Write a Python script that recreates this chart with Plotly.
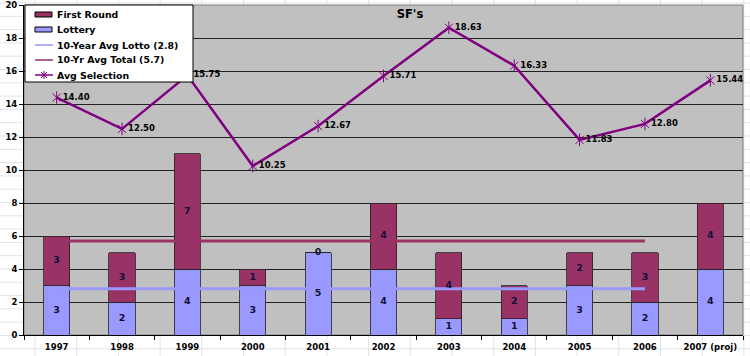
import plotly.graph_objects as go

years = ["1997", "1998", "1999", "2000", "2001", "2002", "2003", "2004", "2005", "2006", "2007 (proj)"]
lottery = [3, 2, 4, 3, 5, 4, 1, 1, 3, 2, 4]
first_round = [3, 3, 7, 1, 0, 4, 4, 2, 2, 3, 4]
avg_selection = [14.40, 12.50, 15.75, 10.25, 12.67, 15.71, 18.63, 16.33, 11.83, 12.80, 15.44]
avg_span = ["1997", "2006"]
avg_lotto = [2.8, 2.8]
avg_total = [5.7, 5.7]
legend_names = ["First Round", "Lottery", "10-Year Avg Lotto (2.8)", "10-Yr Avg Total (5.7)", "Avg Selection"]

FONT = "DejaVu Sans"
C_FR = "#993366"
C_LOT = "#9999FF"
C_SEL = "#800080"
TXT = "#10103a"

fig = go.Figure()
fig.add_bar(x=years, y=lottery, name=legend_names[1], marker=dict(color=C_LOT, line=dict(color="#222", width=0.8)),
            width=0.4, hoverinfo="skip")
fig.add_bar(x=years, y=first_round, name=legend_names[0], marker=dict(color=C_FR, line=dict(color="#222", width=0.8)),
            width=0.4, hoverinfo="skip")
fig.add_scatter(x=avg_span, y=avg_lotto, mode="lines", name=legend_names[2],
                line=dict(color=C_LOT, width=3))
fig.add_scatter(x=avg_span, y=avg_total, mode="lines", name=legend_names[3],
                line=dict(color=C_FR, width=3))
fig.add_scatter(x=years, y=avg_selection, mode="lines+markers+text", name=legend_names[4],
                line=dict(color=C_SEL, width=2.5),
                marker=dict(symbol="x-thin-open", size=8, color=C_SEL, line=dict(color=C_SEL, width=1)),
                text=[f"{v:.2f}" for v in avg_selection], textposition="middle right",
                textfont=dict(family=FONT, size=8.5, color="#000", weight="bold"))
fig.add_scatter(x=years, y=avg_selection, mode="markers", showlegend=False, hoverinfo="skip",
                marker=dict(symbol="line-ns-open", size=9, color=C_SEL, line=dict(color=C_SEL, width=1)))
# bar segment labels
lot_mid = [v / 2 for v in lottery]
fr_mid = [l + f / 2 for l, f in zip(lottery, first_round)]
fig.add_scatter(x=years, y=lot_mid, mode="text", text=[str(v) for v in lottery], showlegend=False,
                textfont=dict(family=FONT, size=9.5, color=TXT, weight="bold"), hoverinfo="skip")
fig.add_scatter(x=years, y=fr_mid, mode="text", text=[str(v) for v in first_round], showlegend=False,
                textfont=dict(family=FONT, size=9.5, color=TXT, weight="bold"), hoverinfo="skip")

# layout geometry (pixels)
L, R, T, B = 24, 743, 5, 335
W, H = R - L, B - T
def px(xp):
    return (xp - L) / W
def py(yp):
    return (B - yp) / H

shapes = []
# spreadsheet-like background
k = 0
while 35 + k * 41.7 < 750:
    xx = 35 + k * 41.7
    shapes.append(dict(type="line", xref="paper", yref="paper", x0=px(xx), x1=px(xx), y0=py(0), y1=py(356),
                       line=dict(color="#dfe3ea", width=1), layer="below"))
    k += 1
k = 0
while 3 + k * 13.3 < 356:
    yy = 3 + k * 13.3
    shapes.append(dict(type="line", xref="paper", yref="paper", x0=px(0), x1=px(750), y0=py(yy), y1=py(yy),
                       line=dict(color="#dfe3ea", width=1), layer="below"))
    k += 1
shapes.append(dict(type="rect", xref="paper", yref="paper", x0=0, x1=1, y0=0, y1=1,
                   fillcolor="#C0C0C0", line=dict(color="#808080", width=1), layer="below"))

# legend box (Excel style)
def pline(x0, y0, x1, y1, color, width):
    return dict(type="line", xref="paper", yref="paper", x0=px(x0), x1=px(x1), y0=py(y0), y1=py(y1),
                line=dict(color=color, width=width), layer="above")
shapes.append(dict(type="rect", xref="paper", yref="paper", x0=px(25), x1=px(193), y0=py(82), y1=py(5),
                   fillcolor="white", line=dict(color="#000", width=1), layer="above"))
item_y = [14.5, 29.5, 45, 60, 75]
for yc, col in zip(item_y[:2], [C_FR, C_LOT]):
    shapes.append(dict(type="rect", xref="paper", yref="paper", x0=px(35), x1=px(52), y0=py(yc + 2.5), y1=py(yc - 2.5),
                       fillcolor=col, line=dict(color="#000", width=1), layer="above"))
shapes.append(pline(35, item_y[2], 53, item_y[2], C_LOT, 1.5))
shapes.append(pline(35, item_y[3], 53, item_y[3], C_FR, 1.5))
shapes.append(pline(35, item_y[4], 53, item_y[4], C_SEL, 1.5))
shapes.append(pline(41, item_y[4] - 3, 47, item_y[4] + 3, C_SEL, 1))
shapes.append(pline(41, item_y[4] + 3, 47, item_y[4] - 3, C_SEL, 1))
shapes.append(pline(44, item_y[4] - 4, 44, item_y[4] + 4, C_SEL, 1))
annotations = [dict(text=name, xref="paper", yref="paper", x=px(55), y=py(yc), xanchor="left", yanchor="middle",
                    showarrow=False, font=dict(family=FONT, size=9.4, color="#000", weight="bold"))
               for name, yc in zip(legend_names, item_y)]

fig.update_layout(
    width=750, height=356,
    margin=dict(l=L, r=750 - R, t=T, b=356 - B, autoexpand=False),
    paper_bgcolor="white", plot_bgcolor="rgba(0,0,0,0)",
    barmode="stack",
    shapes=shapes,
    annotations=annotations,
    showlegend=False,
    font=dict(family=FONT, color="#000"),
    title=dict(text="<b>SF's</b>", x=px(410), xref="paper", xanchor="center",
               y=1 - 14 / 356, yref="container", yanchor="middle",
               font=dict(family=FONT, size=11.5, color="#000")),
)
fig.update_xaxes(type="category", range=[-0.5, len(years) - 0.5], autorange=False,
                 showline=True, linecolor="#000", linewidth=1, automargin=False,
                 ticks="outside", tickson="boundaries", ticklen=4, tickcolor="#000",
                 ticklabelstandoff=4,
                 tickfont=dict(family=FONT, size=8.5, color="#000", weight="bold"),
                 showgrid=False, fixedrange=True)
fig.update_yaxes(range=[0, 20.01], tickvals=list(range(0, 21, 2)), showline=True, linecolor="#000", linewidth=1,
                 automargin=False, ticklabeloverflow="allow",
                 ticks="outside", ticklen=4, tickcolor="#000",
                 tickfont=dict(family=FONT, size=8.5, color="#000", weight="bold"),
                 showgrid=True, gridcolor="#222", gridwidth=1, zeroline=False, fixedrange=True)

fig.write_html("out.html", config={"displayModeBar": False},
               post_script="document.body.style.margin='0px';document.body.style.overflow='hidden';")
